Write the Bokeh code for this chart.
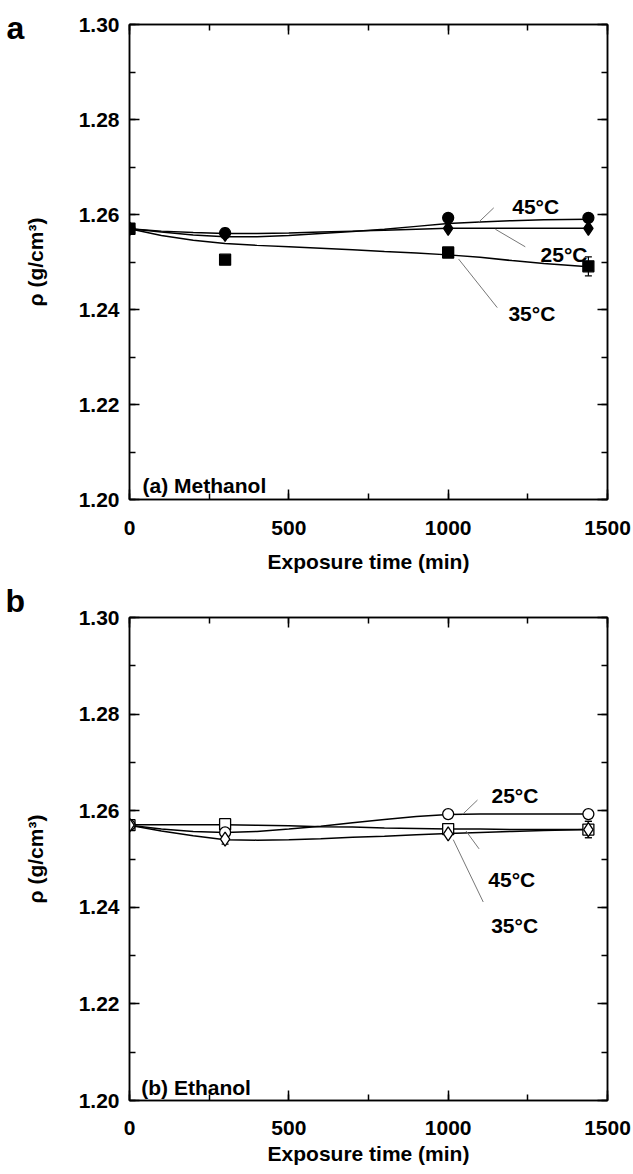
from bokeh.plotting import figure
from bokeh.models import (Range1d, LinearAxis, SingleIntervalTicker, NumeralTickFormatter,
                          Label, Whisker, TeeHead, ColumnDataSource, CustomJSTickFormatter)
from bokeh.layouts import column
from bokeh.embed import file_html
from bokeh.resources import INLINE

# ---------------- data ----------------
t = [0, 300, 1000, 1440]

# (a) Methanol – filled markers
a_45 = [1.2570, 1.2561, 1.2593, 1.2593]   # circles
a_25 = [1.2570, 1.2558, 1.2571, 1.2571]   # diamonds
a_35 = [1.2570, 1.2505, 1.2520, 1.2491]   # squares
a_45_err = [0.0002, 0.0010, 0.0004, 0.0004]
a_25_err = [0.0002, 0.0003, 0.0003, 0.0003]
a_35_err = [0.0002, 0.0006, 0.0002, 0.0020]

# (a) fitted curves
a_fit_t = [0, 100, 200, 300, 400, 500, 600, 700, 800, 900, 1000, 1100, 1200, 1300, 1440]
a_fit_45 = [1.2570, 1.2563, 1.2557, 1.2553, 1.2553, 1.2556, 1.2560, 1.2564, 1.2569,
            1.2575, 1.2581, 1.2584, 1.2587, 1.2589, 1.2590]
a_fit_25 = [1.2570, 1.2565, 1.2562, 1.2560, 1.2560, 1.2561, 1.2563, 1.2565, 1.2567,
            1.2569, 1.2571, 1.2571, 1.2571, 1.2571, 1.2571]
a_fit_35 = [1.2570, 1.2556, 1.2546, 1.2539, 1.2535, 1.2532, 1.2529, 1.2526, 1.2522,
            1.2519, 1.2515, 1.2510, 1.2503, 1.2497, 1.2490]

# (b) Ethanol – open markers
b_25 = [1.2570, 1.2555, 1.2593, 1.2593]   # circles
b_45 = [1.2570, 1.2572, 1.2562, 1.2561]   # squares
b_35 = [1.2570, 1.2541, 1.2552, 1.2561]   # diamonds
b_25_err = [0.0002, 0.0003, 0.0003, 0.0005]
b_45_err = [0.0002, 0.0003, 0.0003, 0.0017]
b_35_err = [0.0002, 0.0010, 0.0003, 0.0017]

b_fit_t = [0, 100, 200, 300, 400, 500, 600, 700, 800, 900, 1000, 1100, 1200, 1300, 1440]
b_fit_25 = [1.2570, 1.2562, 1.2557, 1.2555, 1.2557, 1.2562, 1.2568, 1.2575, 1.2582,
            1.2588, 1.2592, 1.2593, 1.2593, 1.2593, 1.2593]
b_fit_45 = [1.2571, 1.2571, 1.2571, 1.2571, 1.2570, 1.2569, 1.2567, 1.2566, 1.2564,
            1.2563, 1.2562, 1.2562, 1.2561, 1.2561, 1.2561]
b_fit_35 = [1.2570, 1.2558, 1.2548, 1.2540, 1.2539, 1.2540, 1.2542, 1.2545, 1.2547,
            1.2550, 1.2553, 1.2555, 1.2557, 1.2559, 1.2561]

x_ticks_interval = 500
y_ticks_interval = 0.02

FONT = "Liberation Sans"


def make_panel(width, height, bl, br, bt, bb, tick_sd, lab_sd):
    p = figure(width=width, height=height, output_backend="svg", toolbar_location=None,
               x_range=Range1d(0, 1500), y_range=Range1d(1.20, 1.30),
               min_border_left=bl, min_border_right=br, min_border_top=bt,
               min_border_bottom=bb)
    p.grid.visible = False
    p.outline_line_color = "black"
    p.outline_line_width = 1.5
    p.background_fill_color = "white"
    p.border_fill_color = "white"

    xt = SingleIntervalTicker(interval=x_ticks_interval, num_minor_ticks=2)
    yt = SingleIntervalTicker(interval=y_ticks_interval, num_minor_ticks=2)

    def style(ax):
        ax.axis_line_color = "black"
        ax.axis_line_width = 1.5
        ax.major_tick_in = 10
        ax.major_tick_out = 0
        ax.minor_tick_in = 6
        ax.minor_tick_out = 0
        ax.major_tick_line_width = 1.5
        ax.minor_tick_line_width = 1.5
        ax.major_label_text_font = FONT
        ax.major_label_text_font_style = "bold"
        ax.major_label_text_font_size = "21px"
        ax.major_label_text_color = "black"
        ax.axis_label_text_font = FONT
        ax.axis_label_text_font_style = "bold"
        ax.axis_label_text_font_size = "21px"
        ax.axis_label_text_color = "black"

    xa = p.xaxis[0]
    xa.ticker = xt
    style(xa)
    xa.axis_label = "Exposure time (min)"
    xa.major_label_standoff = tick_sd
    xa.axis_label_standoff = lab_sd

    ya = p.yaxis[0]
    ya.ticker = yt
    style(ya)
    ya.formatter = NumeralTickFormatter(format="0.00")
    ya.axis_label = "ρ (g/cm³)"
    ya.major_label_standoff = 10
    ya.axis_label_standoff = 29

    blank = CustomJSTickFormatter(code="return ''")
    top = LinearAxis(ticker=xt, formatter=blank)
    style(top)
    top.major_label_standoff = 0
    p.add_layout(top, "above")
    right = LinearAxis(ticker=yt, formatter=blank)
    style(right)
    right.major_label_standoff = 0
    p.add_layout(right, "right")
    return p


def add_series(p, y, err, marker, size, fill):
    src = ColumnDataSource(dict(x=t, y=y,
                                lo=[v - e for v, e in zip(y, err)],
                                hi=[v + e for v, e in zip(y, err)]))
    w = Whisker(base="x", upper="hi", lower="lo", source=src, dimension="height",
                line_color="black", line_width=1.2,
                upper_head=TeeHead(size=7, line_color="black", line_width=1.2),
                lower_head=TeeHead(size=7, line_color="black", line_width=1.2))
    p.add_layout(w)
    p.scatter("x", "y", source=src, marker=marker, size=size, fill_color=fill,
              line_color="black", line_width=1.3)


def txt(p, x, y, s, size="21px"):
    p.add_layout(Label(x=x, y=y, text=s, text_font=FONT, text_font_style="bold",
                       text_font_size=size, text_color="black",
                       text_align="left", text_baseline="alphabetic"))


def panel_letter(p, x, y, s):
    p.add_layout(Label(x=x, y=y, x_units="screen", y_units="screen", text=s,
                       text_font=FONT, text_font_style="bold", text_font_size="32px",
                       text_color="black", text_align="left",
                       text_baseline="alphabetic"), "left")


# ---------------- panel a ----------------
pa = make_panel(633, 582, 129, 26, 24, 83, 21, 12)
pa.line(a_fit_t, a_fit_45, line_color="black", line_width=1.5)
pa.line(a_fit_t, a_fit_25, line_color="black", line_width=1.5)
pa.line(a_fit_t, a_fit_35, line_color="black", line_width=1.5)
add_series(pa, a_35, a_35_err, "square", 11, "black")
add_series(pa, a_45, a_45_err, "circle", 11, "black")
add_series(pa, a_25, a_25_err, "diamond", 14, "black")
pa.segment([1096, 1148, 1033], [1.2584, 1.2569, 1.2506],
           [1143, 1242, 1154], [1.2614, 1.2532, 1.2404],
           line_color="#777777", line_width=1)
txt(pa, 1201, 1.2616, "45°C")
txt(pa, 1290, 1.2515, "25°C")
txt(pa, 1189, 1.2392, "35°C")
txt(pa, 41, 1.2029, "(a) Methanol")
panel_letter(pa, 4, 472, "a")

# ---------------- panel b ----------------
pb = make_panel(633, 592, 123, 21, 35, 74, 20, 4)
pb.line(b_fit_t, b_fit_25, line_color="black", line_width=1.5)
pb.line(b_fit_t, b_fit_45, line_color="black", line_width=1.5)
pb.line(b_fit_t, b_fit_35, line_color="black", line_width=1.5)
add_series(pb, b_45, b_45_err, "square", 11, "white")
add_series(pb, b_25, b_25_err, "circle", 11, "white")
add_series(pb, b_35, b_35_err, "diamond", 14, "white")
pb.segment([1046, 1056, 1016], [1.2593, 1.2558, 1.2540],
           [1092, 1097, 1110], [1.2622, 1.2521, 1.2411],
           line_color="#777777", line_width=1)
txt(pb, 1136, 1.2631, "25°C")
txt(pb, 1126, 1.2457, "45°C")
txt(pb, 1135, 1.2362, "35°C")
txt(pb, 37, 1.2027, "(b) Ethanol")
panel_letter(pb, 5, 500, "b")

layout = column(pa, pb, spacing=0)
open("out.html", "w").write(file_html(layout, INLINE))
